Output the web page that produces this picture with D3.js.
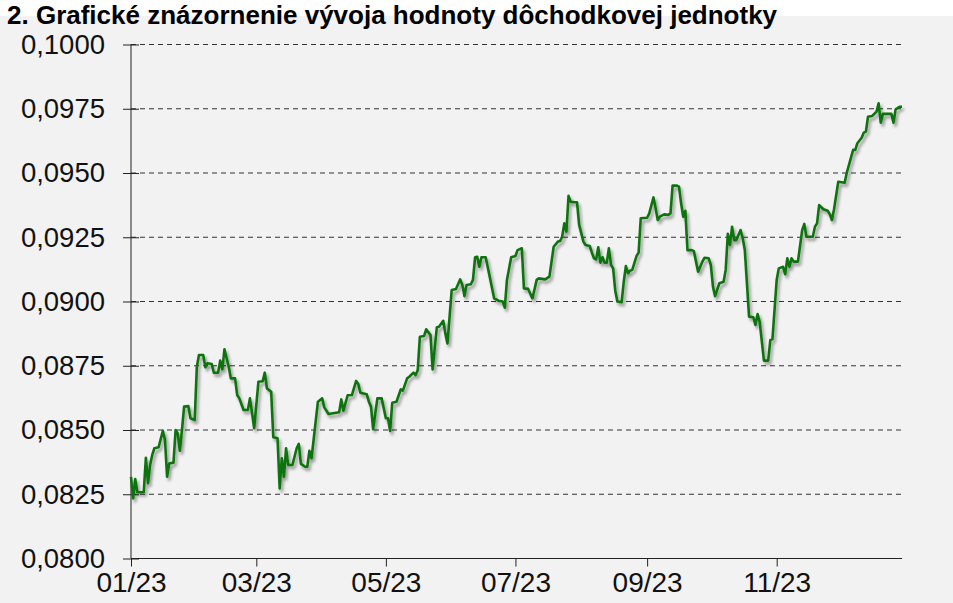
<!DOCTYPE html>
<html>
<head>
<meta charset="utf-8">
<script src="https://cdn.jsdelivr.net/npm/d3@7"></script>
<style>
  html, body { margin: 0; padding: 0; background: #ffffff; }
  svg { display: block; }
  text { font-family: "Liberation Sans", Arial, sans-serif; }
</style>
</head>
<body>
<svg id="chart" width="953" height="603"></svg>
<script>
// Hodnota dôchodkovej jednotky v roku 2023 (deň = počet dní od 1. 1. 2023)
const days = [
  0,1,2,3,6,7,8,9,10,11,13,15,16,17,18,20,21,22,23,24,25,27,28,30,31,32,34,35,36,38,
  39,41,42,43,44,46,47,49,50,51,53,55,56,58,60,62,63,64,66,67,69,70,71,72,73,74,76,78,79,80,
  82,83,84,85,88,90,91,93,98,99,100,102,104,106,107,108,111,112,113,114,116,118,120,121,122,123,125,127,128,130,
  131,133,134,135,136,138,139,141,142,144,145,147,148,149,151,153,155,156,157,158,160,161,162,163,164,165,167,171,173,175,
  176,177,179,181,182,184,185,187,189,191,192,195,197,199,201,202,203,204,205,206,207,209,210,211,213,214,216,217,218,219,
  220,221,222,223,224,225,226,227,228,229,231,232,233,234,235,236,238,239,240,243,244,246,247,248,249,251,253,254,255,257,
  258,259,260,261,262,264,265,267,269,270,272,273,274,275,277,279,280,281,282,283,284,285,287,288,289,291,293,294,295,296,
  298,300,301,302,304,305,307,308,309,310,311,312,314,315,316,317,318,321,322,323,324,326,328,329,330,331,333,336,337,338,
  340,341,342,344,345,346,347,349,351,352,353,354,358,359,360,362,363
];
const values = [
  0.08318,0.08234,0.08309,0.08258,0.08258,0.08392,0.08293,0.08364,0.08403,0.08429,0.08433,0.08497,0.08461,0.08318,0.08370,0.08373,0.08500,0.08487,0.08419,0.08500,0.08591,0.08593,0.08546,0.08539,0.08746,0.08792,0.08792,0.08744,0.08760,0.08757,
  0.08723,0.08723,0.08770,0.08736,0.08814,0.08746,0.08701,0.08701,0.08636,0.08623,0.08578,0.08578,0.08623,0.08507,0.08688,0.08690,0.08723,0.08662,0.08649,0.08472,0.08468,0.08273,0.08390,0.08318,0.08429,0.08364,0.08364,0.08429,0.08446,0.08368,
  0.08357,0.08357,0.08419,0.08390,0.08610,0.08623,0.08588,0.08562,0.08569,0.08619,0.08575,0.08635,0.08636,0.08691,0.08679,0.08645,0.08639,0.08610,0.08591,0.08503,0.08623,0.08623,0.08546,0.08546,0.08496,0.08606,0.08610,0.08658,0.08653,0.08701,
  0.08707,0.08723,0.08714,0.08733,0.08863,0.08866,0.08892,0.08870,0.08736,0.08900,0.08902,0.08925,0.08876,0.08837,0.09045,0.09049,0.09086,0.09064,0.09021,0.09064,0.09067,0.09084,0.09172,0.09174,0.09135,0.09172,0.09172,0.09012,0.09003,0.09000,
  0.08976,0.09084,0.09172,0.09177,0.09200,0.09207,0.09051,0.09049,0.09012,0.09084,0.09090,0.09086,0.09097,0.09213,0.09233,0.09235,0.09252,0.09304,0.09272,0.09411,0.09388,0.09386,0.09386,0.09298,0.09233,0.09220,0.09216,0.09190,0.09168,0.09164,
  0.09211,0.09151,0.09172,0.09151,0.09151,0.09207,0.09142,0.09129,0.09042,0.09000,0.08997,0.09077,0.09138,0.09110,0.09120,0.09123,0.09177,0.09190,0.09324,0.09326,0.09343,0.09405,0.09363,0.09317,0.09330,0.09339,0.09337,0.09343,0.09451,0.09451,
  0.09447,0.09382,0.09330,0.09353,0.09200,0.09200,0.09196,0.09116,0.09155,0.09170,0.09168,0.09142,0.09058,0.09021,0.09071,0.09077,0.09123,0.09263,0.09220,0.09291,0.09239,0.09239,0.09278,0.09246,0.09200,0.08941,0.08939,0.08909,0.08951,0.08921,
  0.08770,0.08770,0.08850,0.08853,0.09084,0.09129,0.09135,0.09106,0.09168,0.09135,0.09168,0.09155,0.09155,0.09216,0.09278,0.09302,0.09252,0.09252,0.09291,0.09304,0.09375,0.09359,0.09353,0.09340,0.09317,0.09359,0.09466,0.09462,0.09501,0.09531,
  0.09590,0.09590,0.09616,0.09637,0.09657,0.09661,0.09719,0.09722,0.09739,0.09771,0.09696,0.09730,0.09730,0.09696,0.09748,0.09758,0.09758
];

const yTicks = [0.0800, 0.0825, 0.0850, 0.0875, 0.0900, 0.0925, 0.0950, 0.0975, 0.1000];
const xTickMonths = [0, 2, 4, 6, 8, 10];   // január, marec, máj, júl, september, november
const titleText = "2. Grafické znázornenie vývoja hodnoty dôchodkovej jednotky";

const series = days.map((d, i) => ({ date: new Date(2023, 0, 1 + d), value: values[i] }));

const W = 953, H = 603;
const plot = { left: 131, right: 902, top: 44.5, bottom: 558.5 };

const svg = d3.select("#chart");

// drop shadow under the line
const defs = svg.append("defs");
const f = defs.append("filter").attr("id", "shadow")
  .attr("x", "-5%").attr("y", "-5%").attr("width", "110%").attr("height", "115%");
f.append("feDropShadow").attr("dx", 2).attr("dy", 3).attr("stdDeviation", 1.7)
  .attr("flood-color", "#000").attr("flood-opacity", 0.38);

// panel background
svg.append("rect").attr("x", 0).attr("y", 0).attr("width", W).attr("height", H).attr("fill", "#ffffff");
svg.append("rect").attr("x", 0).attr("y", 16).attr("width", W).attr("height", H - 16).attr("fill", "#f2f2f2");

// title
svg.append("text").attr("x", 7).attr("y", 24)
  .attr("font-size", 26).attr("font-weight", "bold").attr("fill", "#000")
  .text(titleText);

const x = d3.scaleTime()
  .domain([new Date(2023, 0, 1), new Date(2023, 11, 30)])
  .range([plot.left, plot.right]);
const y = d3.scaleLinear()
  .domain([0.08, 0.10])
  .range([plot.bottom, plot.top]);

// dashed horizontal grid
svg.append("g")
  .selectAll("line")
  .data(yTicks.filter(v => v > 0.08))
  .join("line")
  .attr("x1", plot.left).attr("x2", plot.right)
  .attr("y1", d => y(d)).attr("y2", d => y(d))
  .attr("stroke", "#333").attr("stroke-width", 1)
  .attr("stroke-dasharray", "5,4");

const fmtNum = v => d3.format(".4f")(v).replace(".", ",");

// y axis: ticks cross the axis line
const yAxis = svg.append("g").attr("transform", `translate(${plot.left},0)`)
  .call(d3.axisLeft(y).tickValues(yTicks).tickFormat(fmtNum).tickSize(8).tickPadding(18));
yAxis.select(".domain").attr("d", `M0,${plot.top}V${plot.bottom}`).attr("stroke", "#222");
yAxis.selectAll(".tick line").attr("x1", 8).attr("x2", -8).attr("stroke", "#222");
yAxis.selectAll(".tick text").attr("font-size", 27.5).attr("fill", "#111")
  .attr("font-family", "Liberation Sans, Arial, sans-serif");

// x axis
const xTicks = xTickMonths.map(m => new Date(2023, m, 1));
const xAxis = svg.append("g").attr("transform", `translate(0,${plot.bottom})`)
  .call(d3.axisBottom(x).tickValues(xTicks).tickFormat(d3.timeFormat("%m/%y")).tickSize(8).tickPadding(6));
xAxis.select(".domain").attr("d", `M${plot.left},0H${plot.right}`).attr("stroke", "#222");
xAxis.selectAll(".tick line").attr("stroke", "#222");
xAxis.selectAll(".tick text").attr("font-size", 28).attr("fill", "#111")
  .attr("font-family", "Liberation Sans, Arial, sans-serif");

// value line
const line = d3.line().x(d => x(d.date)).y(d => y(d.value));
svg.append("path")
  .datum(series)
  .attr("d", line)
  .attr("fill", "none")
  .attr("stroke", "#0d730d")
  .attr("stroke-width", 2.6)
  .attr("stroke-linejoin", "round")
  .attr("filter", "url(#shadow)");
</script>
</body>
</html>
